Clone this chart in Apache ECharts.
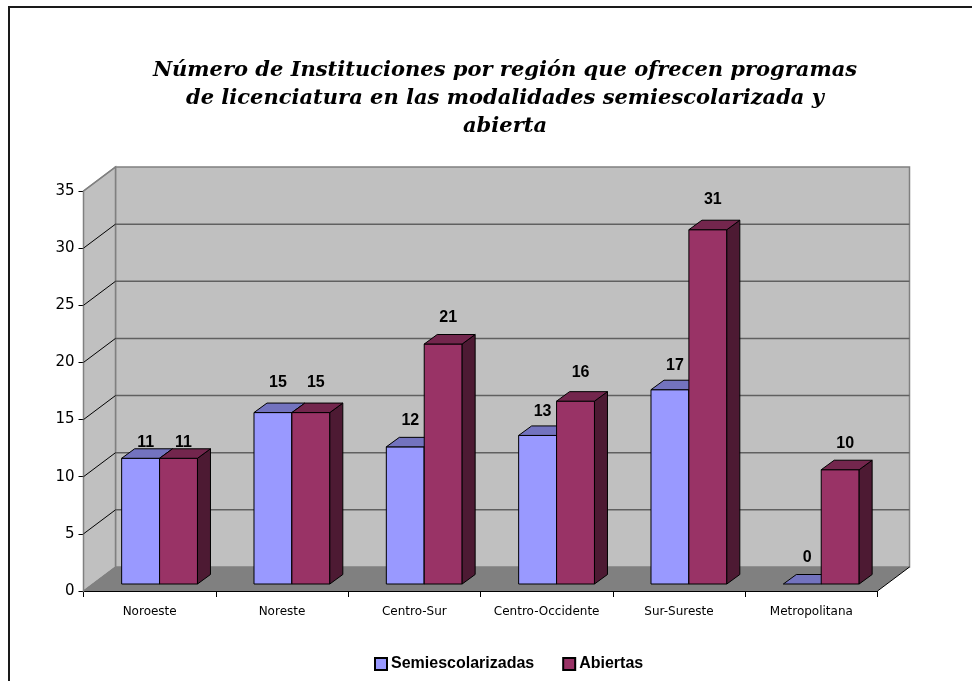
<!DOCTYPE html>
<html>
<head>
<meta charset="utf-8">
<style>
  html, body { margin: 0; padding: 0; background: #fff; }
  #chart { width: 972px; height: 681px; }
</style>
</head>
<body>
<div id="chart"></div>
<script src="https://cdn.jsdelivr.net/npm/echarts@6/dist/echarts.min.js"></script>
<script>
const titleText = 'Número de Instituciones por región que ofrecen programas\nde licenciatura en las modalidades semiescolarizada y\nabierta';
const regions = ['Noroeste', 'Noreste', 'Centro-Sur', 'Centro-Occidente', 'Sur-Sureste', 'Metropolitana'];
const semiescolarizadas = [11, 15, 12, 13, 17, 0];
const abiertas = [11, 15, 21, 16, 31, 10];
const wallTicks = [0, 5, 10, 15, 20, 25, 30, 35];

// the picture's labels float at slightly different heights
const semiLabelLift = [16, 30, 26, 24, 24, 26];
const abiertasLabelLift = [16, 30, 26, 29, 30, 26];

const wallDepth = [32, -24];
const barDepth = [13, -9.5];
const barShift = [9.9, -7];
const barWidthRatio = 0.2865;

const SEMI = { front: '#9999ff', top: '#7373bf', side: '#4d4d80' };
const ABIERTAS = { front: '#993366', top: '#73264d', side: '#4d1a33' };

function poly(points, fill, stroke, lineWidth) {
  return {
    type: 'polygon',
    shape: { points: points },
    style: { fill: fill, stroke: stroke || null, lineWidth: lineWidth || 0 }
  };
}

function line(p1, p2, stroke, lineWidth) {
  return {
    type: 'line',
    shape: { x1: p1[0], y1: p1[1], x2: p2[0], y2: p2[1] },
    style: { stroke: stroke, lineWidth: lineWidth }
  };
}

// back wall, side wall and floor, one call for the whole box
function renderBox(params, api) {
  const c = params.coordSys;
  const dx = wallDepth[0], dy = wallDepth[1];
  const left = c.x, right = c.x + c.width;
  const bottom = c.y + c.height;
  const yTop = api.coord([0, wallTicks[wallTicks.length - 1]])[1];
  const children = [
    poly([[left + dx, yTop + dy], [right + dx, yTop + dy], [right + dx, bottom + dy], [left + dx, bottom + dy]], '#c0c0c0', '#808080', 1.5),
    poly([[left, yTop], [left + dx, yTop + dy], [left + dx, bottom + dy], [left, bottom]], '#c0c0c0', '#808080', 1.5),
    poly([[left, bottom], [left + dx, bottom + dy], [right + dx, bottom + dy], [right, bottom]], '#808080')
  ];
  wallTicks.forEach(function (v) {
    const y = api.coord([0, v])[1];
    if (v > 0 && v < 35) {
      children.push(line([left + dx, y + dy], [right + dx, y + dy], '#606060', 1.5));
      children.push(line([left, y], [left + dx, y + dy], '#000', 1));
    }
  });
  children.push(line([left, yTop], [left + dx, yTop + dy], '#808080', 1.5));
  children.push(line([left, bottom], [left + dx, bottom + dy], '#808080', 1));
  children.push(line([right, bottom], [right + dx, bottom + dy], '#000', 1));
  return { type: 'group', silent: true, children: children };
}

function barRenderer(colors, slot, lifts) {
  return function (params, api) {
    const cat = api.value(0);
    const value = api.value(1);
    const band = api.size([1, 0])[0];
    const w = band * barWidthRatio;
    const base = api.coord([cat, 0]);
    const top = api.coord([cat, value]);
    const x0 = base[0] + barShift[0] + (slot - 1) * w;
    const x1 = x0 + w;
    const yb = base[1] + barShift[1];
    const yt = top[1] + barShift[1];
    const dx = barDepth[0], dy = barDepth[1];
    const children = [];
    if (value > 0) {
      children.push(poly([[x0, yb], [x1, yb], [x1, yt], [x0, yt]], colors.front, '#000', 1));
      children.push(poly([[x1, yb], [x1 + dx, yb + dy], [x1 + dx, yt + dy], [x1, yt]], colors.side, '#000', 1));
    }
    children.push(poly([[x0, yt], [x1, yt], [x1 + dx, yt + dy], [x0 + dx, yt + dy]], colors.top, '#000', 1));
    children.push({
      type: 'text',
      z2: 10,
      style: {
        x: x0 + w / 2 + 5,
        y: yt - lifts[cat],
        text: String(value),
        align: 'center',
        verticalAlign: 'middle',
        font: 'bold 16px "Liberation Sans", Arial, sans-serif',
        fill: '#000'
      }
    });
    return { type: 'group', children: children };
  };
}

const chart = echarts.init(document.getElementById('chart'), null, { renderer: 'canvas' });

chart.setOption({
  animation: false,
  backgroundColor: '#fff',
  color: [SEMI.front, ABIERTAS.front],
  title: {
    text: titleText,
    left: 500,
    top: 52,
    textAlign: 'center',
    textStyle: {
      fontFamily: '"DejaVu Serif", serif',
      fontStyle: 'italic',
      fontWeight: 'bold',
      fontSize: 21,
      lineHeight: 28,
      color: '#000'
    }
  },
  legend: {
    data: ['Semiescolarizadas', 'Abiertas'],
    left: 369,
    top: 651,
    itemWidth: 12,
    itemHeight: 12,
    itemGap: 28,
    icon: 'rect',
    selectedMode: false,
    textStyle: {
      fontFamily: '"Liberation Sans", Arial, sans-serif',
      fontWeight: 'bold',
      fontSize: 16,
      color: '#000',
      padding: [0, 0, 0, -1]
    }
  },
  grid: { left: 83.5, top: 191, width: 794, height: 400, containLabel: false },
  xAxis: {
    type: 'category',
    data: regions,
    axisLine: { show: true, lineStyle: { color: '#000', width: 1 } },
    axisTick: { show: true, length: 6, alignWithLabel: false, lineStyle: { color: '#000' } },
    axisLabel: {
      interval: 0,
      margin: 15,
      fontFamily: '"DejaVu Sans", sans-serif',
      fontSize: 12,
      color: '#000'
    },
    splitLine: { show: false }
  },
  yAxis: {
    type: 'value',
    min: 0,
    max: 35,
    interval: 5,
    axisLine: { show: true, lineStyle: { color: '#000', width: 1 } },
    axisTick: { show: true, length: 5, lineStyle: { color: '#000' } },
    axisLabel: {
      margin: 9,
      fontFamily: '"DejaVu Sans", sans-serif',
      fontSize: 15,
      color: '#000'
    },
    splitLine: { show: false }
  },
  series: [
    {
      name: 'box',
      type: 'custom',
      silent: true,
      z: 1,
      clip: false,
      data: [[0, 0]],
      renderItem: renderBox
    },
    {
      name: 'Semiescolarizadas',
      type: 'custom',
      z: 3,
      clip: false,
      itemStyle: { color: SEMI.front, borderColor: '#000', borderWidth: 1 },
      encode: { x: 0, y: 1 },
      data: semiescolarizadas.map(function (v, i) { return [i, v]; }),
      renderItem: barRenderer(SEMI, 0, semiLabelLift)
    },
    {
      name: 'Abiertas',
      type: 'custom',
      z: 4,
      clip: false,
      itemStyle: { color: ABIERTAS.front, borderColor: '#000', borderWidth: 1 },
      encode: { x: 0, y: 1 },
      data: abiertas.map(function (v, i) { return [i, v]; }),
      renderItem: barRenderer(ABIERTAS, 1, abiertasLabelLift)
    }
  ],
  graphic: [
    {
      type: 'polyline',
      silent: true,
      shape: { points: [[9, 681], [9, 7], [972, 7]] },
      style: { stroke: '#1a1a1a', lineWidth: 2, fill: null }
    }
  ]
});
</script>
</body>
</html>
